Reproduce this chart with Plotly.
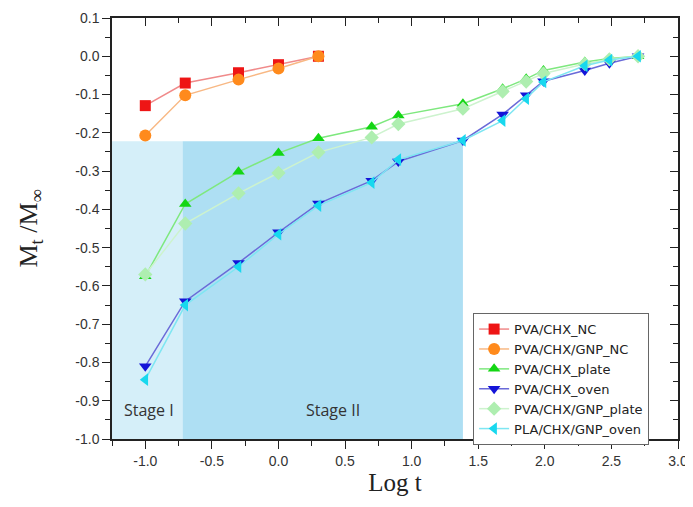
import plotly.graph_objects as go

# ---- data ----
x_nc = [-1.0, -0.7, -0.3, 0.0, 0.3]
y_pva_chx_nc = [-0.129, -0.070, -0.043, -0.022, 0.0]
y_pva_chx_gnp_nc = [-0.207, -0.102, -0.061, -0.032, 0.0]

x_long = [-1.0, -0.7, -0.3, 0.0, 0.3, 0.7, 0.9, 1.385, 1.683, 1.86, 1.99, 2.30, 2.485, 2.70]
y_pva_chx_plate = [-0.575, -0.386, -0.302, -0.253, -0.214, -0.184, -0.155, -0.124, -0.085, -0.059, -0.037, -0.015, -0.006, 0.0]
y_pva_chx_oven = [-0.810, -0.640, -0.540, -0.460, -0.385, -0.325, -0.275, -0.220, -0.152, -0.102, -0.065, -0.037, -0.018, 0.0]
y_pva_chx_gnp_plate = [-0.570, -0.437, -0.358, -0.305, -0.251, -0.212, -0.177, -0.137, -0.092, -0.066, -0.045, -0.020, -0.008, 0.0]
y_pla_chx_gnp_oven = [-0.845, -0.650, -0.550, -0.465, -0.390, -0.330, -0.270, -0.220, -0.168, -0.111, -0.067, -0.025, -0.010, 0.0]

x_tickvals = [-1.0, -0.5, 0.0, 0.5, 1.0, 1.5, 2.0, 2.5, 3.0]
x_ticktext = ["-1.0", "-0.5", "0.0", "0.5", "1.0", "1.5", "2.0", "2.5", "3.0"]
y_tickvals = [0.1, 0.0, -0.1, -0.2, -0.3, -0.4, -0.5, -0.6, -0.7, -0.8, -0.9, -1.0]
y_ticktext = ["0.1", "0.0", "-0.1", "-0.2", "-0.3", "-0.4", "-0.5", "-0.6", "-0.7", "-0.8", "-0.9", "-1.0"]

stage_x = [-1.25, -0.72, 1.385]   # boundaries of Stage I and Stage II
stage_y = [-1.0, -0.222]
stage_labels = ["Stage I", "Stage II"]
stage_label_x = [-0.97, 0.41]
stage_label_y = -0.925

series = [
    ("PVA/CHX_NC", x_nc, y_pva_chx_nc, "square", "#ee1515", "#f08a8a"),
    ("PVA/CHX/GNP_NC", x_nc, y_pva_chx_gnp_nc, "circle", "#ff8a1c", "#f8b884"),
    ("PVA/CHX_plate", x_long, y_pva_chx_plate, "triangle-up", "#14d614", "#7ee87e"),
    ("PVA/CHX_oven", x_long, y_pva_chx_oven, "triangle-down", "#1414d8", "#6a6ad8"),
    ("PVA/CHX/GNP_plate", x_long, y_pva_chx_gnp_plate, "diamond", "#aeeeb0", "#cdf3ce"),
    ("PLA/CHX/GNP_oven", x_long, y_pla_chx_gnp_oven, "triangle-left", "#18d8ee", "#7ee6f2"),
]

fig = go.Figure()

stage_colors = ["#d5eff9", "#aedff3"]
for i in range(2):
    fig.add_shape(type="rect", xref="x", yref="y",
                  x0=stage_x[i], x1=stage_x[i + 1], y0=stage_y[0], y1=stage_y[1],
                  fillcolor=stage_colors[i], line_width=0, layer="below")
    fig.add_annotation(x=stage_label_x[i], y=stage_label_y, text=stage_labels[i],
                       showarrow=False, xref="x", yref="y",
                       font=dict(family="Open Sans, Lato, sans-serif", size=16, color="#333333"))

for name, xs, ys, sym, mc, lc in series:
    size = 11
    if sym == "circle":
        size = 12
    fig.add_trace(go.Scatter(
        x=xs, y=ys, name=name, mode="lines+markers",
        line=dict(color=lc, width=1.5),
        marker=dict(symbol=sym, size=size, color=mc, line=dict(width=0)),
    ))

tickfont = dict(family="Liberation Sans, Arial, sans-serif", size=14, color="#333333")
common = dict(showgrid=False, zeroline=False, showline=True, linecolor="#222222", linewidth=1.5,
              tickwidth=1.3, tickcolor="#222222", ticklen=8, automargin=False)
fig.update_layout(
    width=685, height=499,
    margin=dict(l=104, r=15, t=10, b=68),
    paper_bgcolor="white", plot_bgcolor="white",
    showlegend=True,
    legend=dict(x=0.638, y=0.299, xanchor="left", yanchor="top",
                bgcolor="white", bordercolor="#666666", borderwidth=1,
                font=dict(family="DejaVu Sans, Arial, sans-serif", size=13, color="#222222"),
                tracegroupgap=0, itemwidth=30),
    xaxis=dict(range=[-1.25, 3.0], tickmode="array", tickvals=x_tickvals, ticktext=x_ticktext,
               ticks="outside",
               minor=dict(dtick=0.25, tick0=-1.0, ticks="outside", ticklen=5, tickcolor="#222222", tickwidth=1.3),
               tickfont=tickfont,
               title=dict(text="Log t", font=dict(family="Liberation Serif, Times New Roman, serif", size=25, color="#222222"), standoff=6),
               **common),
    yaxis=dict(range=[-1.0, 0.1], tickmode="array", tickvals=y_tickvals, ticktext=y_ticktext,
               ticks="outside",
               minor=dict(dtick=0.05, tick0=0.0, ticks="outside", ticklen=5, tickcolor="#222222", tickwidth=1.3),
               tickfont=tickfont,
               title=dict(text="M<sub>t</sub> /M<sub>∞</sub>", font=dict(family="Liberation Serif, Times New Roman, serif", size=26, color="#222222"), standoff=30),
               **common),
    xaxis2=dict(overlaying="x", side="top", matches="x", range=[-1.25, 3.0], tick0=-1.0, dtick=0.5,
                ticks="inside", showticklabels=False,
                minor=dict(dtick=0.25, ticks="inside", ticklen=5, tickcolor="#222222", tickwidth=1.3),
                **common),
    yaxis2=dict(overlaying="y", side="right", matches="y", range=[-1.0, 0.1], tick0=0.0, dtick=0.1,
                ticks="inside", showticklabels=False,
                minor=dict(dtick=0.05, ticks="inside", ticklen=5, tickcolor="#222222", tickwidth=1.3),
                **common),
)
# invisible trace to activate the mirrored axes
fig.add_trace(go.Scatter(x=[None], y=[None], xaxis="x2", yaxis="y2", showlegend=False, hoverinfo="skip"))

fig.write_html("out.html")
